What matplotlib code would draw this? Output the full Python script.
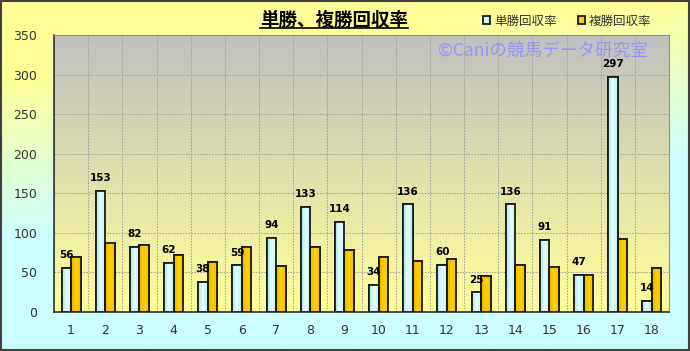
import numpy as np
import matplotlib
matplotlib.use("Agg")
import matplotlib.pyplot as plt
from matplotlib.colors import LinearSegmentedColormap
from matplotlib.lines import Line2D
from matplotlib.patches import Rectangle

plt.rcParams["font.family"] = ["Noto Sans CJK JP", "DejaVu Sans"]

# data
races = [str(i) for i in range(1, 19)]
win_return = [56, 153, 82, 62, 38, 59, 94, 133, 114, 34, 136, 60, 25, 136, 91, 47, 297, 14]
place_return = [70, 87, 85, 72, 63, 82, 58, 82, 78, 70, 64, 67, 45, 59, 57, 47, 92, 55]
series_names = ["単勝回収率", "複勝回収率"]

fig = plt.figure(figsize=(6.9, 3.51), dpi=100)

# outer background gradient (yellow top -> light cyan bottom)
bg = fig.add_axes([0, 0, 1, 1], zorder=-10)
bg_cmap = LinearSegmentedColormap.from_list("bg", ["#CCFFFF", "#CCFFFF", "#FFFF99"])
yy, xx = np.mgrid[0:1:200j, 0:1:200j]
grad = np.clip(yy * 1.1 + (1 - xx) * 0.25 - 0.1, 0, 1)
bg.imshow(grad, cmap=bg_cmap, origin="lower", extent=[0, 1, 0, 1], aspect="auto")
bg.set_axis_off()
fig.add_artist(Rectangle((0.001, 0.002), 0.997, 0.995, transform=fig.transFigure,
                         fill=False, edgecolor="#404040", linewidth=1.5))

ax = fig.add_axes([54 / 690, 39 / 351, 615 / 690, 277 / 351])
ax.set_facecolor("none")
plot_cmap = LinearSegmentedColormap.from_list("pa", ["#FFFF99", "#C0C0C0"])
ax.imshow(np.linspace(0, 1, 200).reshape(-1, 1), cmap=plot_cmap, origin="lower",
          extent=[0, 1, 0, 1], transform=ax.transAxes, aspect="auto", zorder=0)

x = np.arange(len(races))
w = 0.28
bars1 = ax.bar(x - w / 2, win_return, w, color="#C8F8F8", edgecolor="#1a1a1a",
               linewidth=1.3, zorder=3, label=series_names[0])
bars2 = ax.bar(x + w / 2, place_return, w, color="#FFCC00", edgecolor="#1a1a1a",
               linewidth=1.3, zorder=3, label=series_names[1])

# subtle horizontal shading inside bars
cyan_cmap = LinearSegmentedColormap.from_list("cy", ["#A8E4E4", "#E6FFFF", "#B8EEEE"])
gold_cmap = LinearSegmentedColormap.from_list("gd", ["#E8B000", "#FFD200", "#F0BC00"])
shade = np.linspace(0, 1, 50).reshape(1, -1)
for bars, cmap in [(bars1, cyan_cmap), (bars2, gold_cmap)]:
    for b in bars:
        im = ax.imshow(shade, cmap=cmap, aspect="auto", zorder=3.5,
                       extent=[b.get_x(), b.get_x() + b.get_width(), 0, b.get_height()])
        im.set_clip_path(b)
        edge = Rectangle((b.get_x(), 0), b.get_width(), b.get_height(), fill=False,
                         edgecolor="#1a1a1a", linewidth=1.3, zorder=4)
        ax.add_patch(edge)

for b, v in zip(bars1, win_return):
    ax.annotate(str(v), (b.get_x() + b.get_width() / 2, v), xytext=(0, 5.5),
                textcoords="offset points", ha="center", va="bottom",
                fontsize=7.5, fontweight="bold", family="DejaVu Sans", zorder=5)

ax.set_xlim(-0.5, len(races) - 0.5)
ax.set_ylim(0, 350)
ax.set_yticks(range(0, 351, 50))
ax.set_xticks(x)
ax.set_xticklabels(races)
ax.set_xticks(np.arange(-0.5, len(races), 1), minor=True)
ax.grid(True, axis="y", linestyle=(0, (1.5, 1.5)), color="#9a9a9a", linewidth=0.7, zorder=1)
ax.grid(True, axis="x", which="minor", linestyle=(0, (1.5, 1.5)), color="#9a9a9a",
        linewidth=0.7, zorder=1)
ax.grid(False, axis="x", which="major")
ax.tick_params(axis="both", which="both", length=0, labelsize=9, colors="#333333",
               labelfontfamily="DejaVu Sans")
ax.tick_params(axis="x", pad=9)
ax.tick_params(axis="y", pad=12)
for side in ["top", "right"]:
    ax.spines[side].set_color("#909090")
for side in ["left", "bottom"]:
    ax.spines[side].set_color("#303030")
    ax.spines[side].set_linewidth(1.2)

# title with underline
title = fig.text(334 / 690, 1 - 20 / 351, "単勝、複勝回収率", ha="center", va="center",
                 fontsize=13.3, fontweight="bold", color="#000000")
fig.canvas.draw()
tb = title.get_window_extent().transformed(fig.transFigure.inverted())
fig.add_artist(Line2D([tb.x0, tb.x1], [tb.y0 + 0.004, tb.y0 + 0.004],
                      transform=fig.transFigure, color="black", linewidth=1.2))

# legend
leg = fig.legend(handles=[bars1, bars2], labels=series_names, loc="center",
                 bbox_to_anchor=(567 / 690, 1 - 21 / 351), ncol=2, frameon=False,
                 fontsize=9, handlelength=0.6, handleheight=0.6, handletextpad=0.3,
                 columnspacing=1.7)
for t in leg.get_texts():
    t.set_color("#333333")

# watermark
fig.text(543 / 690, 1 - 51 / 351, "©Caniの競馬データ研究室", ha="center", va="center",
         fontsize=12.7, color="#8C8CFF", alpha=0.85, zorder=10)

fig.savefig("out.png", dpi=100)
